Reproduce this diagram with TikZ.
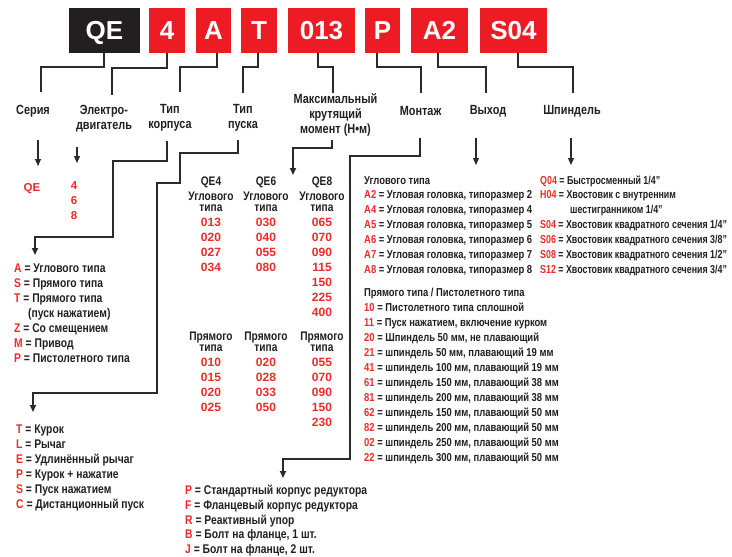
\documentclass[tikz,border=0pt]{standalone}
\usepackage{fontspec}
\usetikzlibrary{arrows.meta}
\newfontfamily\hf{Liberation Sans}
\newfontfamily\cf{Liberation Sans}[FakeStretch=0.82]
\newfontfamily\cfn{Liberation Sans}[FakeStretch=0.77]
\definecolor{cred}{HTML}{ED1C24}
\definecolor{tred}{HTML}{EE2A2A}
\definecolor{dark}{HTML}{231F20}
\definecolor{lc}{HTML}{2B2B2B}
\newcommand\rd[1]{\textcolor{tred}{#1}}
\begin{document}
\begin{tikzpicture}[x=1pt,y=-1pt,
  cbox/.style={fill=cred,text=white,inner sep=0,minimum height=45pt,text height=18.6pt,text depth=0pt,font=\hf\bfseries\fontsize{26}{26}\selectfont},
  hdr/.style={text=dark,inner sep=0,align=center,font=\cf\bfseries\fontsize{13.3}{15}\selectfont},
  item/.style={text=dark,inner sep=0,anchor=base west,font=\cf\bfseries\fontsize{11.5}{11.5}\selectfont},
  litem/.style={item,font=\cf\bfseries\fontsize{12.6}{12.6}\selectfont},
  sitem/.style={item,font=\cfn\bfseries\fontsize{11.5}{11.5}\selectfont},
  mtxt/.style={text=dark,inner sep=0,anchor=base,font=\cf\bfseries\fontsize{12.4}{12.4}\selectfont},
  mnum/.style={text=tred,inner sep=0,anchor=base,font=\hf\bfseries\fontsize{12}{12}\selectfont},
  con/.style={draw=lc,line width=1.8pt},
  arr/.style={draw=lc,line width=1.2pt,-{Triangle[width=6pt,length=7pt]}},
  arrc/.style={draw=lc,line width=1.6pt,-{Triangle[width=6pt,length=7pt]}}]
\useasboundingbox (0,0) rectangle (732,557);
\fill[white] (0,0) rectangle (732,557);
% code boxes
\node[cbox,fill=dark,minimum width=71pt] (bQE) at (104.5,30.5) {QE};
\node[cbox,minimum width=36pt] (b4) at (167,30.5) {4};
\node[cbox,minimum width=35pt] (bA) at (213.5,30.5) {A};
\node[cbox,minimum width=36pt] (bT) at (259,30.5) {T};
\node[cbox,minimum width=67pt] (b013) at (321.5,30.5) {013};
\node[cbox,minimum width=35pt] (bP) at (382.5,30.5) {P};
\node[cbox,minimum width=57pt] (bA2) at (439.5,30.5) {A2};
\node[cbox,minimum width=67pt] (bS04) at (513.5,30.5) {S04};
% header labels
\node[hdr] (lSer) at (33,111) {Серия};
\node[hdr] (lEl) at (104,118.5) {Электро-\\двигатель};
\node[hdr] (lKor) at (170,118) {Тип\\корпуса};
\node[hdr] (lPus) at (243,118) {Тип\\пуска};
\node[hdr] (lMom) at (335.5,115) {Максимальный\\крутящий\\момент (Н•м)};
\node[hdr] (lMon) at (420.5,111) {Монтаж};
\node[hdr] (lVyh) at (488,111) {Выход};
\node[hdr] (lSh) at (572,111) {Шпиндель};
% connector ends
\coordinate (eSer) at (41,92);
\coordinate (eEl) at (112,95);
\coordinate (eKor) at (180,92);
\coordinate (ePus) at (243,93);
\coordinate (eMom) at (333,93);
\coordinate (eMon) at (421,93);
\coordinate (eVyh) at (486,93);
\coordinate (eSh) at (573,93);
\draw[con] (bQE.south -| 104,0) -- ++(0,14) -| (eSer);
\draw[con] (b4.south -| 167,0) -- ++(0,15) -| (eEl);
\draw[con] (bA.south -| 217,0) -- ++(0,14) -| (eKor);
\draw[con] (bT.south -| 258,0) -- ++(0,14) -| (ePus);
\draw[con] (b013.south -| 318,0) -- ++(0,14) -| (eMom);
\draw[con] (bP.south -| 377,0) -- ++(0,14) -| (eMon);
\draw[con] (bA2.south -| 438,0) -- ++(0,14) -| (eVyh);
\draw[con] (bS04.south -| 518,0) -- ++(0,14) -| (eSh);
% series / motor values
\node[mnum,font=\hf\bfseries\fontsize{11.5}{11.5}\selectfont] (vQE) at (32,191) {QE};
\node[mnum,font=\hf\bfseries\fontsize{11.5}{11.5}\selectfont] (v4) at (74,189) {4};
\node[mnum,font=\hf\bfseries\fontsize{11.5}{11.5}\selectfont] (v6) at (74,204) {6};
\node[mnum,font=\hf\bfseries\fontsize{11.5}{11.5}\selectfont] (v8) at (74,219) {8};
\coordinate (sSer) at (38,140);
\coordinate (sEl) at (77,147);
\draw[arr] (sSer) -- (38,166);
\draw[arr] (sEl) -- (77,163);
% body type list
\node[litem] (k1) at (14,272) {\rd{A} = Углового типа};
\node[litem] (k2) at (14,287) {\rd{S} = Прямого типа};
\node[litem] (k3) at (14,302) {\rd{T} = Прямого типа};
\node[litem] (k4) at (28,317) {(пуск нажатием)};
\node[litem] (k5) at (14,332) {\rd{Z} = Со смещением};
\node[litem] (k6) at (14,347) {\rd{M} = Привод};
\node[litem] (k7) at (14,362) {\rd{P} = Пистолетного типа};
\coordinate (sKor) at (167,141);
\coordinate (tKor) at (35,255);
\draw[arrc] (sKor) |- (113,161) |- (35,237) -- (tKor);
% start type list
\foreach \t [count=\i from 0] in {{\rd{T} = Курок},{\rd{L} = Рычаг},{\rd{E} = Удлинённый рычаг},{\rd{P} = Курок + нажатие},{\rd{S} = Пуск нажатием},{\rd{C} = Дистанционный пуск}}
  \node[litem] (p\i) at (16,{433+15*\i}) {\t};
\coordinate (sPus) at (238,140);
\coordinate (tPus) at (33,412);
\draw[arrc] (sPus) |- (180,153) |- (157,183) |- (33,393) -- (tPus);
% torque table
\coordinate (sMom) at (332,140);
\coordinate (tMom) at (293,175);
\draw[arrc] (sMom) |- (293,148) -- (tMom);
\node[mtxt] (h4) at (211,185) {QE4};
\node[mtxt] (h6) at (266,185) {QE6};
\node[mtxt] (h8) at (322,185) {QE8};
\foreach \x/\n in {211/a,266/b,322/c}{
  \node[mtxt] (u1\n) at (\x,200) {Углового};
  \node[mtxt] (u2\n) at (\x,211) {типа};
  \node[mtxt] (r1\n) at (\x,340) {Прямого};
  \node[mtxt] (r2\n) at (\x,351) {типа};
}
\foreach \t [count=\i from 0] in {013,020,027,034} \node[mnum] (na\i) at (211,{226+15*\i}) {\t};
\foreach \t [count=\i from 0] in {030,040,055,080} \node[mnum] (nb\i) at (266,{226+15*\i}) {\t};
\foreach \t [count=\i from 0] in {065,070,090,115,150,225,400} \node[mnum] (nc\i) at (322,{226+15*\i}) {\t};
\foreach \t [count=\i from 0] in {010,015,020,025} \node[mnum] (ma\i) at (211,{366+15*\i}) {\t};
\foreach \t [count=\i from 0] in {020,028,033,050} \node[mnum] (mb\i) at (266,{366+15*\i}) {\t};
\foreach \t [count=\i from 0] in {055,070,090,150,230} \node[mnum] (mc\i) at (322,{366+15*\i}) {\t};
% mounting
\coordinate (sMon) at (420,138);
\coordinate (tMon) at (283,478);
\draw[arrc] (sMon) |- (350,156) |- (283,459) -- (tMon);
\foreach \t [count=\i from 0] in {{\rd{P} = Стандартный корпус редуктора},{\rd{F} = Фланцевый корпус редуктора},{\rd{R} = Реактивный упор},{\rd{B} = Болт на фланце, 1 шт.},{\rd{J} = Болт на фланце, 2 шт.}}
  \node[litem] (m\i) at (185,{494.5+14.8*\i}) {\t};
% output
\coordinate (sVyh) at (476,138);
\draw[arr] (sVyh) -- (476,165);
\node[item] (oa) at (364,184) {Углового типа};
\foreach \t [count=\i from 0] in {2,4,5,6,7,8}
  \node[item] (o\i) at (364,{198+15*\i}) {\rd{A\t} = Угловая головка, типоразмер \t};
\node[item] (ob) at (364,296) {Прямого типа / Пистолетного типа};
\foreach \t [count=\i from 0] in {{\rd{10} = Пистолетного типа сплошной},{\rd{11} = Пуск нажатием, включение курком},{\rd{20} = Шпиндель 50 мм, не плавающий},{\rd{21} = шпиндель 50 мм, плавающий 19 мм},{\rd{41} = шпиндель 100 мм, плавающий 19 мм},{\rd{61} = шпиндель 150 мм, плавающий 38 мм},{\rd{81} = шпиндель 200 мм, плавающий 38 мм},{\rd{62} = шпиндель 150 мм, плавающий 50 мм},{\rd{82} = шпиндель 200 мм, плавающий 50 мм},{\rd{02} = шпиндель 250 мм, плавающий 50 мм},{\rd{22} = шпиндель 300 мм, плавающий 50 мм}}
  \node[item] (q\i) at (364,{311+15*\i}) {\t};
% spindle
\coordinate (sSh) at (571,138);
\draw[arr] (sSh) -- (571,165);
\node[sitem] (s1) at (540,184) {\rd{Q04} = Быстросменный 1/4”};
\node[sitem] (s2) at (540,198) {\rd{H04} = Хвостовик с внутренним};
\node[sitem] (s3) at (570,213) {шестигранником 1/4”};
\node[sitem] (s4) at (540,228) {\rd{S04} = Хвостовик квадратного сечения 1/4”};
\node[sitem] (s5) at (540,243) {\rd{S06} = Хвостовик квадратного сечения 3/8”};
\node[sitem] (s6) at (540,258) {\rd{S08} = Хвостовик квадратного сечения 1/2”};
\node[sitem] (s7) at (540,273) {\rd{S12} = Хвостовик квадратного сечения 3/4”};
\end{tikzpicture}
\end{document}
